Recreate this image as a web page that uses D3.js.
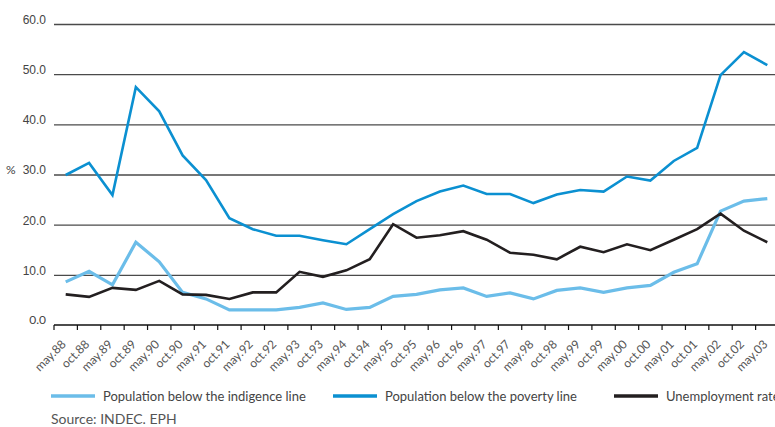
<!DOCTYPE html>
<html>
<head>
<meta charset="utf-8">
<script src="https://cdn.jsdelivr.net/npm/d3@7"></script>
<style>
  html, body { margin: 0; padding: 0; background: #fff; }
  svg { display: block; font-family: Lato, "Noto Sans", sans-serif; }
</style>
</head>
<body>
<svg id="chart" width="775" height="427"></svg>
<script>
// Survey waves (May / October), Greater Buenos Aires
const periods = [
  "may.88","oct.88","may.89","oct.89","may.90","oct.90","may.91","oct.91",
  "may.92","oct.92","may.93","oct.93","may.94","oct.94","may.95","oct.95",
  "may.96","oct.96","may.97","oct.97","may.98","oct.98","may.99","oct.99",
  "may.00","oct.00","may.01","oct.01","may.02","oct.02","may.03"
];

// Share of population below the indigence line (%)
const indigence = [
  8.6, 10.7, 8.0, 16.5, 12.6, 6.5, 5.2, 3.0,
  3.0, 3.0, 3.5, 4.4, 3.1, 3.5, 5.7, 6.1,
  7.0, 7.4, 5.7, 6.4, 5.2, 6.9, 7.4, 6.5,
  7.4, 7.9, 10.5, 12.2, 22.7, 24.7, 25.2
];

// Share of population below the poverty line (%)
const poverty = [
  29.9, 32.3, 25.9, 47.4, 42.6, 33.8, 28.9, 21.3,
  19.1, 17.8, 17.8, 16.9, 16.1, 19.1, 22.1, 24.7,
  26.6, 27.8, 26.1, 26.1, 24.3, 26.0, 26.9, 26.6,
  29.6, 28.8, 32.7, 35.3, 49.8, 54.4, 51.8
];

// Unemployment rate (%)
const unemployment = [
  6.1, 5.6, 7.4, 7.0, 8.8, 6.1, 6.0, 5.2,
  6.5, 6.5, 10.6, 9.6, 10.9, 13.1, 20.1, 17.4,
  17.9, 18.7, 17.0, 14.4, 14.0, 13.1, 15.6, 14.5,
  16.1, 14.9, 17.0, 19.1, 22.2, 18.8, 16.5
];

const yTicks = [0, 10, 20, 30, 40, 50, 60];

const seriesList = [
  { name: "Population below the indigence line", values: indigence,    color: "#6bbde9", width: 3.2 },
  { name: "Population below the poverty line",   values: poverty,      color: "#0b90d1", width: 2.6 },
  { name: "Unemployment rate",                   values: unemployment, color: "#231f20", width: 2.6 }
];

const svg = d3.select("#chart");
const plotLeft = 54, plotRight = 779, plotTop = 24, plotBottom = 325;

const x = d3.scaleBand().domain(periods).range([plotLeft, plotRight]).padding(0);
const y = d3.scaleLinear().domain([0, 60]).range([plotBottom, plotTop]);
const cx = d => x(d) + x.bandwidth() / 2;

// Horizontal gridlines with value labels
const yAxis = d3.axisLeft(y)
  .tickValues(yTicks.filter(v => v > 0))
  .tickSize(-(775 - plotLeft))
  .tickFormat(d3.format(".1f"));
const yg = svg.append("g").attr("transform", `translate(${plotLeft},0)`).call(yAxis);
yg.select(".domain").remove();
yg.selectAll(".tick line").attr("stroke", "#4a4a4a").attr("stroke-width", 1.3);
yg.selectAll(".tick text")
  .attr("x", -8).attr("dy", "-0.05em")
  .attr("fill", "#444").style("font-size", "12px");

// zero label
svg.append("text")
  .attr("x", plotLeft - 8).attr("y", y(0)).attr("dy", "-0.05em")
  .attr("text-anchor", "end").attr("fill", "#444").style("font-size", "12px")
  .text(d3.format(".1f")(0));

svg.append("text")
  .attr("x", 6).attr("y", y(30)).attr("dy", "-0.05em")
  .attr("fill", "#444").style("font-size", "12px")
  .text("%");

// Bottom axis: ticks at band edges, rotated labels under band centres
const xg = svg.append("g").attr("transform", `translate(0,${plotBottom})`);
xg.append("line")
  .attr("x1", plotLeft).attr("x2", 775).attr("y1", 0).attr("y2", 0)
  .attr("stroke", "#111").attr("stroke-width", 1.5);
xg.selectAll("line.tk")
  .data(periods)
  .join("line")
  .attr("class", "tk")
  .attr("x1", d => x(d)).attr("x2", d => x(d))
  .attr("y1", 0).attr("y2", 5)
  .attr("stroke", "#111").attr("stroke-width", 1.2);
xg.selectAll("text")
  .data(periods)
  .join("text")
  .attr("transform", d => `translate(${cx(d) + 1},${20}) rotate(-45)`)
  .attr("text-anchor", "end")
  .attr("fill", "#555")
  .style("font-size", "12px")
  .text(d => d);

// Series lines
const line = d3.line().x((v, i) => cx(periods[i])).y(v => y(v));
svg.append("g").selectAll("path")
  .data(seriesList)
  .join("path")
  .attr("fill", "none")
  .attr("stroke", s => s.color)
  .attr("stroke-width", s => s.width)
  .attr("stroke-linejoin", "miter")
  .attr("d", s => line(s.values));

// Legend
const legendPos = [51, 333, 614];
const lg = svg.append("g");
seriesList.forEach((s, i) => {
  const lx = legendPos[i];
  lg.append("line")
    .attr("x1", lx).attr("x2", lx + 44).attr("y1", 396).attr("y2", 396)
    .attr("stroke", s.color).attr("stroke-width", 3.3);
  lg.append("text")
    .attr("x", lx + 52).attr("y", 396).attr("dy", "0.35em")
    .attr("fill", "#444").style("font-size", "13px")
    .text(s.name);
});

svg.append("text")
  .attr("x", 51).attr("y", 424)
  .attr("fill", "#555").style("font-size", "14px")
  .text("Source: INDEC. EPH");
</script>
</body>
</html>
